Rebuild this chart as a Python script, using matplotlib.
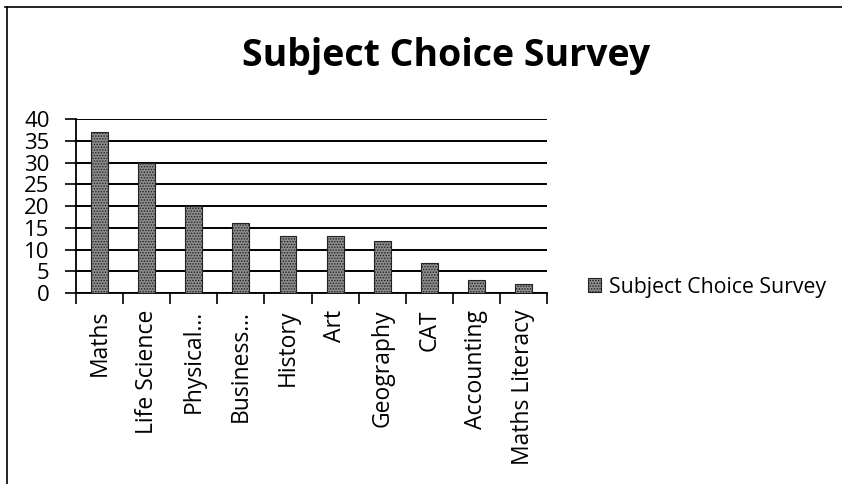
import matplotlib
matplotlib.use('Agg')
import matplotlib.pyplot as plt
from matplotlib.lines import Line2D
import numpy as np

# datos
subjects = ['Maths', 'Life Science', 'Physical...', 'Business...', 'History',
            'Art', 'Geography', 'CAT', 'Accounting', 'Maths Literacy']
counts = [37, 30, 20, 16, 13, 13, 12, 7, 3, 2]
y_ticks = [0, 5, 10, 15, 20, 25, 30, 35, 40]
title = 'Subject Choice Survey'

plt.rcParams['font.family'] = ['Open Sans', 'DejaVu Sans']
plt.rcParams['hatch.color'] = '#2e2e2e'
plt.rcParams['hatch.linewidth'] = 0.7

fig = plt.figure(figsize=(8.42, 4.84), dpi=100)
ax = fig.add_axes([0.0903, 0.3946, 0.5594, 0.3595])

x = np.arange(len(subjects))
ax.bar(x, counts, width=0.36, color='#8c8c8c', edgecolor='#222222',
       linewidth=0.8, hatch='......', label=title, zorder=3)

ax.set_xlim(-0.5, len(subjects) - 0.5)
ax.set_ylim(0, 40)
ax.set_yticks(y_ticks)
ax.yaxis.grid(True, color='black', linewidth=1.4, zorder=0)
ax.set_axisbelow(True)

ax.set_xticks(x)
ax.set_xticklabels(subjects, rotation=90, fontsize=16.5)
ax.set_xticks(np.arange(len(subjects) + 1) - 0.5, minor=True)
ax.tick_params(axis='x', which='major', length=0, pad=12)
ax.tick_params(axis='x', which='minor', length=8, width=1.2, direction='out')
ax.tick_params(axis='y', labelsize=16, length=8, width=1.2, pad=11)

for s in ['top', 'right']:
    ax.spines[s].set_visible(False)
ax.spines['left'].set_linewidth(1.3)
ax.spines['bottom'].set_linewidth(1.3)

fig.text(0.530, 0.864, title, ha='center', va='baseline', fontsize=27,
         fontweight='bold')

fig.legend(loc='center left', bbox_to_anchor=(0.6983, 0.407), frameon=False,
           fontsize=15.3, handlelength=0.62, handleheight=0.62,
           handletextpad=0.35, borderpad=0, borderaxespad=0)

# marco del grafico
fig.add_artist(Line2D([0.006, 1.0], [0.985, 0.985], color='black', linewidth=1.2,
                      transform=fig.transFigure))
fig.add_artist(Line2D([0.008, 0.008], [0.0, 0.985], color='black', linewidth=1.2,
                      transform=fig.transFigure))

fig.savefig('out.png', dpi=100)
